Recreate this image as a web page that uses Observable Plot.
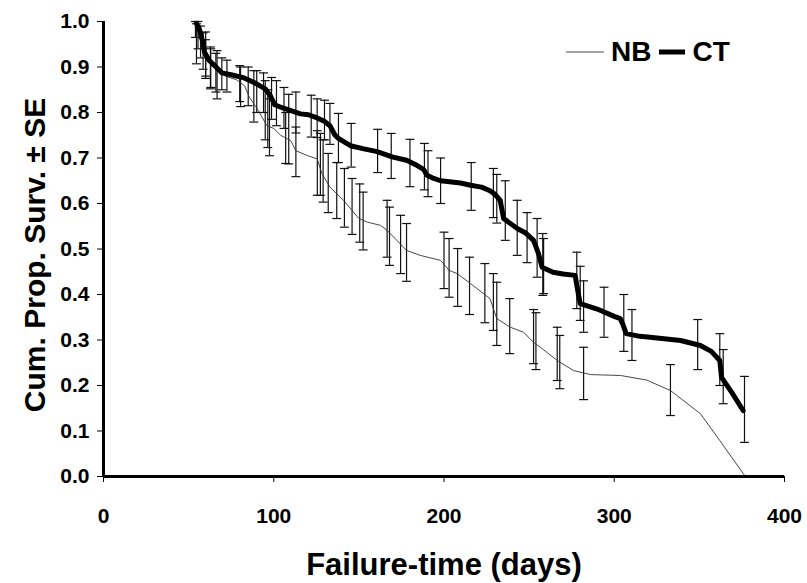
<!DOCTYPE html>
<html>
<head>
<meta charset="utf-8">
<script src="https://cdn.jsdelivr.net/npm/d3@7"></script>
<script src="https://cdn.jsdelivr.net/npm/@observablehq/plot@0.6"></script>
<style>
  html, body { margin: 0; padding: 0; background: #fff; }
  #wrap { position: relative; width: 807px; height: 583px; }
  #legend { position: absolute; left: 566px; top: 36px; display: flex; align-items: center;
    font-family: "Liberation Sans", Arial, sans-serif; font-weight: bold; font-size: 28px; color: #000; }
  #legend span { margin: 0 8px 0 7px; }
</style>
</head>
<body>
<div id="wrap"><div id="legend"></div></div>
<script>
// Kaplan-Meier style curves (time in days, cumulative proportion surviving)
const ctTime = [54.6,56.4,58.4,59.3,62,65.8,69.6,75,82.6,88.4,95,97.8,100.6,105.3,115.7,120.4,125.5,130,133,136,138,145,153,160.7,170,178,184,188,190,194,198,209.7,215.6,222,227,230,233,235,243,248,252.6,255.5,257.6,264,270,277,278.5,280,290,300,303.5,305,307,315,321,339,350.6,357,362,363,369,375.7];
const ctSurv = [0.996,0.982,0.954,0.933,0.915,0.901,0.887,0.883,0.876,0.866,0.852,0.838,0.817,0.81,0.797,0.795,0.788,0.78,0.771,0.75,0.743,0.727,0.72,0.714,0.702,0.695,0.684,0.675,0.662,0.655,0.65,0.645,0.64,0.636,0.628,0.62,0.607,0.567,0.545,0.535,0.519,0.49,0.46,0.449,0.445,0.442,0.41,0.38,0.368,0.352,0.347,0.335,0.314,0.308,0.306,0.299,0.288,0.275,0.255,0.218,0.185,0.145];

const nbTime = [54.6,56,58,60,63,66,71.5,78,82.8,85.6,90,96,100,104,110,113,120,125.5,128.4,133,141,150,155,162.7,166.6,172,178,186,198,203,207.7,215.6,227,231,239,246.7,252.6,258,266.5,276,286,303.7,319,333,350.6,362,377];
const nbSurv = [0.995,0.97,0.945,0.92,0.905,0.895,0.88,0.872,0.859,0.834,0.81,0.771,0.765,0.75,0.738,0.716,0.705,0.698,0.665,0.636,0.607,0.567,0.559,0.552,0.541,0.52,0.497,0.486,0.475,0.453,0.446,0.424,0.391,0.347,0.328,0.317,0.295,0.28,0.255,0.233,0.224,0.222,0.212,0.189,0.138,0.079,0.0];

// Standard-error bars: time, lower, upper
const ctBarTime = [54,55.5,57,58.5,60,63,66,69.5,72.5,80,85,90,94,98.7,101.6,106,113,122,125.5,129.8,133,138,145.5,161,169,180,188.5,190.6,198,216,229,231,236,243,248.8,254.7,258,258.5,278,280,282,294,305.6,310.4,349,362,364,376.5];
const ctBarLo = [0.965,0.94,0.92,0.895,0.875,0.855,0.845,0.85,0.845,0.824,0.815,0.80,0.80,0.785,0.771,0.765,0.755,0.746,0.745,0.74,0.73,0.69,0.68,0.668,0.655,0.637,0.63,0.615,0.60,0.585,0.569,0.557,0.519,0.486,0.47,0.438,0.398,0.402,0.369,0.343,0.317,0.306,0.275,0.255,0.235,0.20,0.16,0.075];
const ctBarHi = [1.0,1.0,0.99,0.975,0.96,0.94,0.93,0.92,0.915,0.903,0.90,0.892,0.887,0.877,0.87,0.855,0.845,0.838,0.83,0.827,0.82,0.798,0.776,0.763,0.754,0.741,0.732,0.716,0.70,0.69,0.677,0.664,0.65,0.607,0.58,0.567,0.534,0.523,0.493,0.462,0.43,0.416,0.40,0.367,0.345,0.314,0.279,0.22];

const nbBarTime = [54.6,60,62.8,66.7,80.5,88.3,95,96.5,97.5,107,108.8,113,125.6,127.4,129,132,137,141.5,146,150.5,152.5,166.6,168,174.5,178,200,203,208,215,224,229,231,238.6,252.6,254,266.5,268,282,333];
const nbBarLo = [0.907,0.88,0.852,0.83,0.813,0.779,0.74,0.723,0.705,0.688,0.687,0.659,0.618,0.618,0.603,0.58,0.567,0.548,0.532,0.515,0.498,0.482,0.464,0.446,0.429,0.413,0.394,0.374,0.356,0.338,0.321,0.288,0.27,0.248,0.235,0.211,0.193,0.169,0.134];
const nbBarHi = [0.995,0.977,0.944,0.936,0.90,0.892,0.87,0.85,0.83,0.80,0.84,0.768,0.76,0.754,0.74,0.71,0.69,0.677,0.655,0.643,0.625,0.607,0.592,0.574,0.556,0.537,0.523,0.501,0.482,0.468,0.446,0.427,0.391,0.367,0.36,0.328,0.31,0.284,0.246];

const xTicks = [0, 100, 200, 300, 400];
const yTicks = [0, 0.1, 0.2, 0.3, 0.4, 0.5, 0.6, 0.7, 0.8, 0.9, 1.0];
const seriesNames = ["NB", "CT"];

const ct = ctTime.map((t, i) => ({t, s: ctSurv[i]}));
const nb = nbTime.map((t, i) => ({t, s: nbSurv[i]}));
const bars = [
  ...ctBarTime.map((t, i) => ({t, lo: ctBarLo[i], hi: ctBarHi[i]})),
  ...nbBarTime.map((t, i) => ({t, lo: nbBarLo[i], hi: nbBarHi[i]}))
];
const capHalf = 2.6;

const font = "'Liberation Sans', Arial, sans-serif";

const chart = Plot.plot({
  width: 807,
  height: 583,
  marginLeft: 103,
  marginRight: 23,
  marginTop: 21,
  marginBottom: 107,
  style: {fontFamily: font, fontWeight: "bold", fontSize: "21px", color: "#000", background: "#fff"},
  x: {domain: [0, 400]},
  y: {domain: [0, 1]},
  marks: [
    Plot.ruleX(bars, {x: "t", y1: "lo", y2: "hi", stroke: "#111", strokeWidth: 1.2}),
    Plot.link(bars, {x1: d => d.t - capHalf, x2: d => d.t + capHalf, y1: "lo", y2: "lo", stroke: "#111", strokeWidth: 1.2}),
    Plot.link(bars, {x1: d => d.t - capHalf, x2: d => d.t + capHalf, y1: "hi", y2: "hi", stroke: "#111", strokeWidth: 1.2}),
    Plot.line(nb, {x: "t", y: "s", stroke: "#333", strokeWidth: 0.9}),
    Plot.line(ct, {x: "t", y: "s", stroke: "#000", strokeWidth: 5, strokeLinejoin: "round"}),
    Plot.axisY({ticks: yTicks, tickFormat: d3.format(".1f"), tickSize: 6, tickPadding: 8, label: null, fontWeight: "bold", fontSize: 21}),
    Plot.axisX({ticks: xTicks, tickFormat: d => String(d), tickSize: 6, tickPadding: 26, label: null, fontWeight: "bold", fontSize: 21}),
    Plot.ruleX([0], {stroke: "#000", strokeWidth: 3}),
    Plot.ruleY([0], {stroke: "#000", strokeWidth: 3}),
    Plot.text(["Failure-time (days)"], {frameAnchor: "bottom", dy: 89, lineAnchor: "middle", textAnchor: "middle", fontSize: 31, fontWeight: "bold", fill: "#000"}),
    Plot.text(["Cum. Prop. Surv. ± SE"], {frameAnchor: "left", dx: -68, dy: 6, rotate: -90, textAnchor: "middle", lineAnchor: "middle", fontSize: 30, fontWeight: "bold", fill: "#000"})
  ]
});
const wrap = document.getElementById("wrap");
wrap.insertBefore(chart, wrap.firstChild);

// legend
const legend = document.getElementById("legend");
const widths = [0.9, 5];
const lens = [38, 26];
seriesNames.forEach((name, i) => {
  const svg = document.createElementNS("http://www.w3.org/2000/svg", "svg");
  svg.setAttribute("width", lens[i]);
  svg.setAttribute("height", 10);
  const ln = document.createElementNS("http://www.w3.org/2000/svg", "line");
  ln.setAttribute("x1", 0); ln.setAttribute("x2", lens[i]);
  ln.setAttribute("y1", 5); ln.setAttribute("y2", 5);
  ln.setAttribute("stroke", i === 0 ? "#333" : "#000");
  ln.setAttribute("stroke-width", widths[i]);
  svg.appendChild(ln);
  legend.appendChild(svg);
  const sp = document.createElement("span");
  sp.textContent = name;
  legend.appendChild(sp);
});
</script>
</body>
</html>
